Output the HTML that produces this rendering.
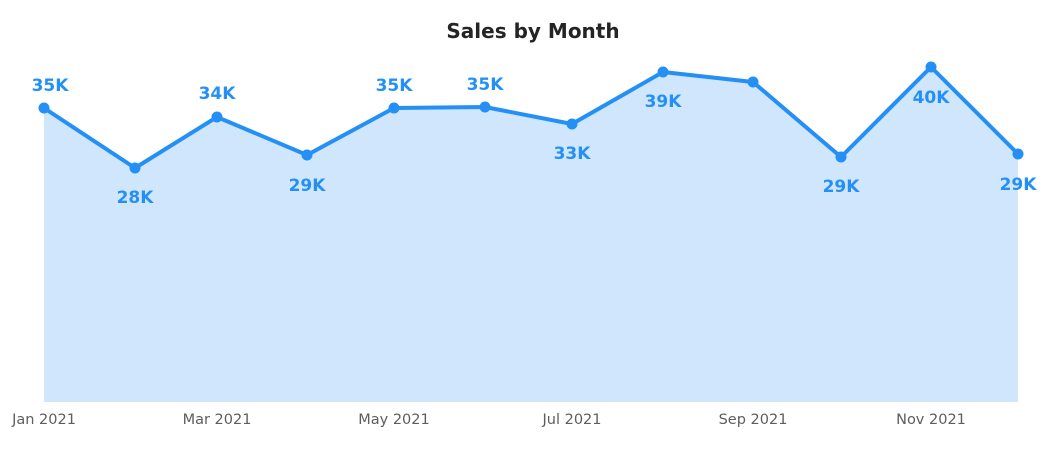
<!DOCTYPE html>
<html><head><style>
body{margin:0;background:#fff;width:1058px;height:454px;overflow:hidden}
svg text{font-family:"DejaVu Sans","Liberation Sans",sans-serif}
</style></head><body>
<svg width="1058" height="454" viewBox="0 0 1058 454">
<text x="533" y="38" text-anchor="middle" font-size="20" font-weight="bold" fill="#252423">Sales by Month</text>
<polygon fill="#cfe6fc" points="44,402 44,108 135,168 217,117 307,155 394,108 485,107 572,124 663,72 753,82 841,157 931,67 1018,154 1018,402"/>
<polyline fill="none" stroke="#2490f6" stroke-width="4" stroke-linejoin="round" points="44,108 135,168 217,117 307,155 394,108 485,107 572,124 663,72 753,82 841,157 931,67 1018,154"/>
<g fill="#2490f6">
<circle cx="44" cy="108" r="5.5"/><circle cx="135" cy="168" r="5.5"/><circle cx="217" cy="117" r="5.5"/><circle cx="307" cy="155" r="5.5"/><circle cx="394" cy="108" r="5.5"/><circle cx="485" cy="107" r="5.5"/><circle cx="572" cy="124" r="5.5"/><circle cx="663" cy="72" r="5.5"/><circle cx="753" cy="82" r="5.5"/><circle cx="841" cy="157" r="5.5"/><circle cx="931" cy="67" r="5.5"/><circle cx="1018" cy="154" r="5.5"/>
</g>
<g fill="#2490f6" font-size="17" font-weight="bold" text-anchor="middle">
<text x="50" y="91">35K</text><text x="135" y="203">28K</text><text x="217" y="99">34K</text><text x="307" y="191">29K</text><text x="394" y="91">35K</text><text x="485" y="90">35K</text><text x="572" y="159">33K</text><text x="663" y="107">39K</text><text x="841" y="192">29K</text><text x="931" y="103">40K</text><text x="1018" y="190">29K</text>
</g>
<g fill="#605e5c" font-size="14.5" text-anchor="middle">
<text x="44" y="424">Jan 2021</text><text x="217" y="424">Mar 2021</text><text x="394" y="424">May 2021</text><text x="572" y="424">Jul 2021</text><text x="753" y="424">Sep 2021</text><text x="931" y="424">Nov 2021</text>
</g>
</svg>
</body></html>
